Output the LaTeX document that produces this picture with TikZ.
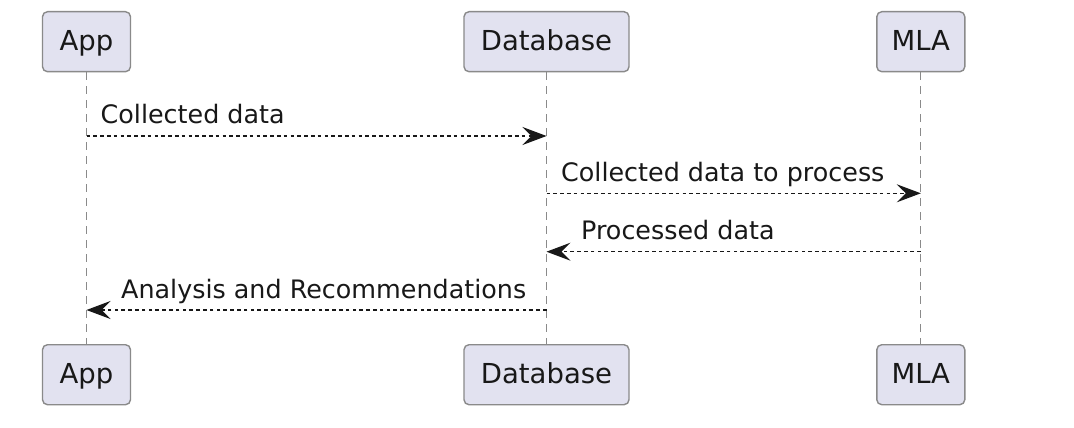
\documentclass[tikz,border=0pt]{standalone}
\usepackage{fontspec}
\setmainfont{DejaVu Sans}
\usetikzlibrary{arrows.meta}
\definecolor{boxfill}{HTML}{E2E2F0}
\definecolor{boxline}{HTML}{8A8A8A}
\definecolor{ink}{HTML}{181818}
\begin{document}
\begin{tikzpicture}[x=1pt,y=-1pt,
  partbox/.style={draw=boxline, line width=1.4pt, fill=boxfill, rounded corners=5pt,
    minimum height=60pt, inner sep=0pt, text height=20pt, text depth=0pt,
    font=\fontsize{27.5}{30}\selectfont, text=ink},
  lifeline/.style={draw=boxline, line width=1.2pt, dash pattern=on 8pt off 6pt},
  msg/.style={draw=ink, line width=1.3pt, dash pattern=on 3.6pt off 3.2pt,
    -{Stealth[length=24pt,width=18pt,inset=9pt]}},
  msglabel/.style={anchor=base west, inner sep=0pt, font=\fontsize{25.4}{28}\selectfont, text=ink}]
\useasboundingbox[fill=white] (0,0) rectangle (1074,428);
% participants
\node[partbox, minimum width=88pt]  (appT) at (86.5,41.7) {};
\node[partbox, minimum width=165pt] (dbT)  at (546.5,41.7) {};
\node[partbox, minimum width=88pt]  (mlaT) at (920.8,41.7) {};
\node[partbox, minimum width=88pt]  (appB) at (86.5,374.7) {};
\node[partbox, minimum width=165pt] (dbB)  at (546.5,374.7) {};
\node[partbox, minimum width=88pt]  (mlaB) at (920.8,374.7) {};
\foreach \n/\t in {appT/App,dbT/Database,mlaT/MLA,appB/App,dbB/Database,mlaB/MLA}
  \node[anchor=base, inner sep=0pt, font=\fontsize{27.5}{30}\selectfont, text=ink] at ([yshift=-9pt]\n.center) {\t};
% lifelines
\draw[lifeline] (appT.south) -- (appB.north);
\draw[lifeline] (dbT.south) -- (dbB.north);
\draw[lifeline] (mlaT.south) -- (mlaB.north);
% message anchor points
\coordinate (a1) at (appT.south |- 0,136);
\coordinate (d1) at (dbT.south |- 0,136);
\coordinate (d2) at (dbT.south |- 0,193.3);
\coordinate (m2) at (mlaT.south |- 0,193.3);
\coordinate (m3) at (mlaT.south |- 0,251.7);
\coordinate (d3) at (dbT.south |- 0,251.7);
\coordinate (d4) at (dbT.south |- 0,310);
\coordinate (a4) at (appT.south |- 0,310);
% messages
\draw[msg] (a1) -- (d1);
\node[msglabel] (l1) at ([xshift=14pt,yshift=12pt]a1) {Collected data};
\draw[msg] (d2) -- (m2);
\node[msglabel] (l2) at ([xshift=14.5pt,yshift=12pt]d2) {Collected data to process};
\draw[msg] (m3) -- (d3);
\node[msglabel] (l3) at ([xshift=34.5pt,yshift=12pt]d3) {Processed data};
\draw[msg] (d4) -- (a4);
\node[msglabel] (l4) at ([xshift=34.5pt,yshift=12pt]a4) {Analysis and Recommendations};
\end{tikzpicture}
\end{document}
